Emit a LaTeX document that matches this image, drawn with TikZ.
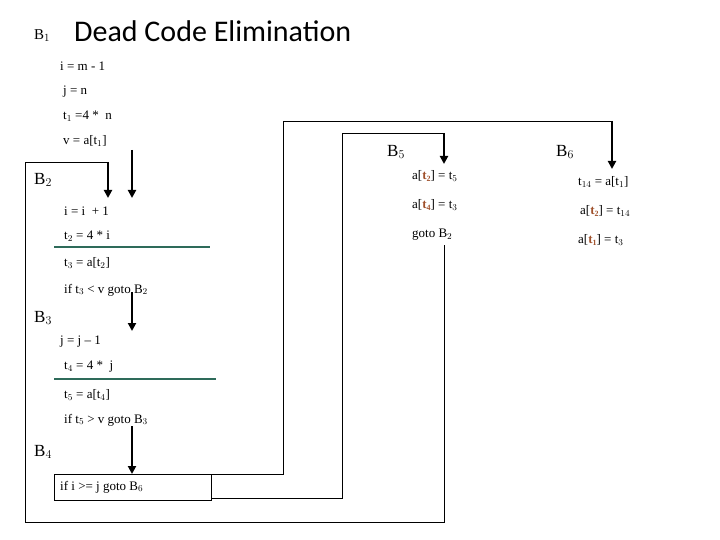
\documentclass[tikz,border=0pt]{standalone}
\usepackage{fontspec}
\setmainfont{Liberation Serif}
\newfontfamily\titlefont{Carlito}
\usetikzlibrary{arrows.meta}
\definecolor{gl}{HTML}{2E6B5A}
\definecolor{rt}{HTML}{A0522D}
\newcommand{\rt}[1]{\textcolor{rt}{\textbf{t}\raisebox{-0.35ex}{\fontsize{8}{8}\selectfont\bfseries #1}}}
\begin{document}
\begin{tikzpicture}[x=1pt,y=-1pt,
  code/.style={anchor=west,inner sep=0pt,font=\fontsize{13}{13}\selectfont},
  blab/.style={anchor=west,inner sep=0pt,font=\fontsize{17}{17}\selectfont\rmfamily},
  wire/.style={line width=0.9pt},
  flow/.style={line width=2pt,-{Triangle[length=8pt,width=8pt]}},
  sep/.style={gl,line width=2pt}]
\useasboundingbox (0,0) rectangle (720,540);
% title
\node[anchor=west,inner sep=0pt,font=\fontsize{15}{15}\selectfont] (b1) at (34,36) {B$_1$};
\node[anchor=west,inner sep=0pt,font=\titlefont\fontsize{30}{30}\selectfont] (title) at (74,31) {Dead Code Elimination};
% B1
\node[code] (l1) at (60,66) {i = m - 1};
\node[code] (l2) at (63,92) {j = n};
\node[code] (l3) at (63,116) {t$_1$ =4 *\ \ n};
\node[code] (l4) at (63,141) {v = a[t$_1$]};
% B2
\node[blab] (b2) at (34,180) {B$_2$};
\node[code] (l5) at (64,211) {i = i\ \ + 1};
\node[code] (l6) at (64,236) {t$_2$ = 4 * i};
\node[code] (l7) at (64,263) {t$_3$ = a[t$_2$]};
\node[code] (l8) at (64,290) {if t$_3$ < v goto B$_2$};
% B3
\node[blab] (b3) at (34,318) {B$_3$};
\node[code] (l9) at (60,342) {j = j -- 1};
\node[code] (l10) at (64,367) {t$_4$ = 4 *\ \ j};
\node[code] (l11) at (64,395) {t$_5$ = a[t$_4$]};
\node[code] (l12) at (64,420) {if t$_5$ > v goto B$_3$};
% B4
\node[blab] (b4) at (34,452) {B$_4$};
\node[draw,line width=0.9pt,anchor=north west,minimum width=157pt,minimum height=26pt,inner sep=0pt] (box) at (54,474) {};
\node[code] (l13) at (60,487) {if i >= j goto B$_6$};
% B5
\node[blab] (b5) at (387,152) {B$_5$};
\node[code] (m1) at (412,176) {a[\rt{2}] = t$_5$};
\node[code] (m2) at (412,205) {a[\rt{4}] = t$_3$};
\node[code] (m3) at (412,235) {goto B$_2$};
% B6
\node[blab] (b6) at (556,152) {B$_6$};
\node[code] (n1) at (578,182) {t$_{14}$ = a[t$_1$]};
\node[code] (n2) at (580,211) {a[\rt{2}] = t$_{14}$};
\node[code] (n3) at (578,240) {a[\rt{1}] = t$_3$};
% separators
\coordinate (s1a) at (54,247); \coordinate (s1b) at (210,247);
\coordinate (s2a) at (54,379); \coordinate (s2b) at (216,379);
\draw[sep] (s1a) -- (s1b);
\draw[sep] (s2a) -- (s2b);
% straight flow arrows
\coordinate (a1) at (132,150); \coordinate (a1e) at (132,198);
\coordinate (a2) at (132,292); \coordinate (a2e) at (132,331);
\coordinate (a3) at (132,426); \coordinate (a3e) at (132,474);
\draw[flow] (a1) -- (a1e);
\draw[flow] (a2) -- (a2e);
\draw[flow] (a3) -- (box.north -| a3e);
% loop goto B2 -> B2
\coordinate (g0) at (444,245); \coordinate (g1) at (444,522);
\coordinate (g2) at (25,522); \coordinate (g3) at (25,162);
\coordinate (g4) at (108,162); \coordinate (g5) at (108,198);
\draw[wire] (g0) -- (g1) -- (g2) -- (g3) -- (g4);
\draw[flow] (g4) -- (g5);
% B4 -> B5
\coordinate (p1) at (342,498); \coordinate (p2) at (342,133);
\coordinate (p3) at (444,133); \coordinate (p4) at (444,164);
\draw[wire] (box.south east |- p1) -- (p1) -- (p2) -- (p3);
\draw[flow] (p3) -- (p4);
% B4 -> B6
\coordinate (q1) at (283,474); \coordinate (q2) at (283,121);
\coordinate (q3) at (612,121); \coordinate (q4) at (612,169);
\draw[wire] (box.north east) -- (q1) -- (q2) -- (q3);
\draw[flow] (q3) -- (q4);
\end{tikzpicture}
\end{document}
